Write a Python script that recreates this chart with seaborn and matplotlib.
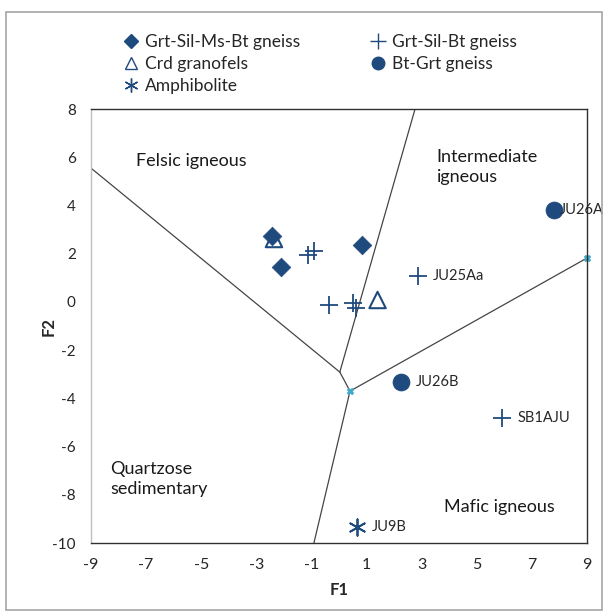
import matplotlib
matplotlib.use("Agg")
import matplotlib.pyplot as plt
from matplotlib.patches import Rectangle
from matplotlib.lines import Line2D
import seaborn as sns

sns.set_theme(style="white")
plt.rcParams["font.family"] = ["Lato", "DejaVu Sans"]
plt.rcParams["axes.unicode_minus"] = False

# Sample discriminant scores (F1, F2) per rock type
rock_types = ["Grt-Sil-Ms-Bt gneiss", "Crd granofels", "Amphibolite",
              "Grt-Sil-Bt gneiss", "Bt-Grt gneiss"]
ms_bt_f1 = [-2.44, -2.12, 0.83]
ms_bt_f2 = [2.74, 1.46, 2.35]
crd_f1 = [-2.36, 1.40]
crd_f2 = [2.61, 0.08]
amph_f1 = [0.65]
amph_f2 = [-9.34]
sil_bt_f1 = [-1.14, -0.89, -0.38, 0.52, 0.60, 2.87, 5.91]
sil_bt_f2 = [1.96, 2.13, -0.13, -0.05, -0.27, 1.07, -4.82]
bt_grt_f1 = [7.80, 2.25]
bt_grt_f2 = [3.81, -3.32]

# Named samples
sample_names = ["JU26A", "JU25Aa", "JU26B", "SB1AJU", "JU9B"]
sample_f1 = [7.80, 2.87, 2.25, 5.91, 0.65]
sample_f2 = [3.81, 1.07, -3.32, -4.82, -9.34]

# Field boundaries of the discrimination diagram
boundary_f1 = [[-9.0, 0.03], [2.76, 0.03], [0.03, 0.40], [0.40, 9.0], [0.40, -0.91]]
boundary_f2 = [[5.55, -2.91], [8.0, -2.91], [-2.91, -3.70], [-3.70, 1.82], [-3.70, -10.0]]
node_f1 = [0.40, 9.0]
node_f2 = [-3.70, 1.82]

# Field names
field_names = ["Felsic igneous", "Intermediate\nigneous", "Quartzose\nsedimentary", "Mafic igneous"]
field_f1 = [-7.35, 3.55, -8.3, 3.8]
field_f2 = [5.85, 5.6, -7.35, -8.5]

x_ticks = [-9, -7, -5, -3, -1, 1, 3, 5, 7, 9]
y_ticks = [-10, -8, -6, -4, -2, 0, 2, 4, 6, 8]

blue = "#1f4a7e"
line_col = "#454545"

fig = plt.figure(figsize=(6.05, 6.16), dpi=100)
ax = fig.add_axes([0.1504, 0.1185, 0.8198, 0.7045])

for bx, by in zip(boundary_f1, boundary_f2):
    sns.lineplot(x=bx, y=by, ax=ax, color=line_col, linewidth=0.9, sort=False,
                 estimator=None, zorder=1)
sns.scatterplot(x=node_f1, y=node_f2, ax=ax, marker="X", s=22, color="#3fa8c8",
                edgecolor="#3fa8c8", linewidth=0.5, zorder=2, clip_on=False)

sns.scatterplot(x=ms_bt_f1, y=ms_bt_f2, ax=ax, marker="D", s=90, color=blue,
                edgecolor=blue, linewidth=0.5, zorder=3)
sns.scatterplot(x=crd_f1, y=crd_f2, ax=ax, marker="^", s=140, facecolor="none",
                edgecolor=blue, linewidth=1.5, zorder=3)
sns.scatterplot(x=amph_f1, y=amph_f2, ax=ax, marker=(6, 2, 0), s=140, color=blue,
                linewidth=1.3, zorder=3)
sns.scatterplot(x=sil_bt_f1, y=sil_bt_f2, ax=ax, marker="+", s=150, color=blue,
                linewidth=1.3, zorder=3)
sns.scatterplot(x=bt_grt_f1, y=bt_grt_f2, ax=ax, marker="o", s=150, color=blue,
                edgecolor=blue, linewidth=0.5, zorder=3)

for name, fx, fy in zip(sample_names, sample_f1, sample_f2):
    dx = 4 if name == "JU26A" else 11
    ax.annotate(name, (fx, fy), xytext=(dx, 0), textcoords="offset points",
                ha="left", va="center", fontsize=10.5, color="#262626")

for name, fx, fy in zip(field_names, field_f1, field_f2):
    ax.text(fx, fy, name, ha="left", va="center", fontsize=13, color="#1a1a1a",
            linespacing=1.35)

ax.set_xlim(-9, 9)
ax.set_ylim(-10, 8)
ax.set_xticks(x_ticks)
ax.set_yticks(y_ticks)
ax.tick_params(axis="x", direction="in", length=4, width=0.8, color=line_col,
               labelsize=11.5, pad=11, labelcolor="#262626")
ax.tick_params(axis="y", direction="in", length=4, width=0.8, color="#bfbfbf",
               labelsize=11, pad=11, labelcolor="#262626")
for side in ["top", "right", "bottom"]:
    ax.spines[side].set_color("#303030")
    ax.spines[side].set_linewidth(1.0)
ax.spines["left"].set_color("#bfbfbf")
ax.spines["left"].set_linewidth(1.0)
ax.set_xlabel("F1", fontsize=12, fontweight="bold", labelpad=7)
ax.set_ylabel("F2", fontsize=12, fontweight="bold", labelpad=-3)

handles = [
    Line2D([], [], linestyle="none", marker="D", markersize=7, color=blue),
    Line2D([], [], linestyle="none", marker="^", markersize=9, markerfacecolor="none",
           markeredgecolor=blue, markeredgewidth=1.0),
    Line2D([], [], linestyle="none", marker=(6, 2, 0), markersize=10, color=blue,
           markeredgewidth=1.0),
    Line2D([], [], linestyle="none", marker="+", markersize=11, color=blue,
           markeredgewidth=1.0),
    Line2D([], [], linestyle="none", marker="o", markersize=9, color=blue),
]
fig.legend(handles, rock_types, ncol=2, loc="upper left",
           bbox_to_anchor=(0.19, 0.9565), frameon=False, fontsize=12.5,
           handletextpad=0.35, handlelength=1.0, columnspacing=3.95,
           labelspacing=0.36, borderaxespad=0)

fig.patches.append(Rectangle((0.0099, 0.0097), 0.985, 0.971, transform=fig.transFigure,
                             fill=False, edgecolor="#a6a6a6", linewidth=1.2))

fig.savefig("out.png", dpi=100, facecolor="white")
